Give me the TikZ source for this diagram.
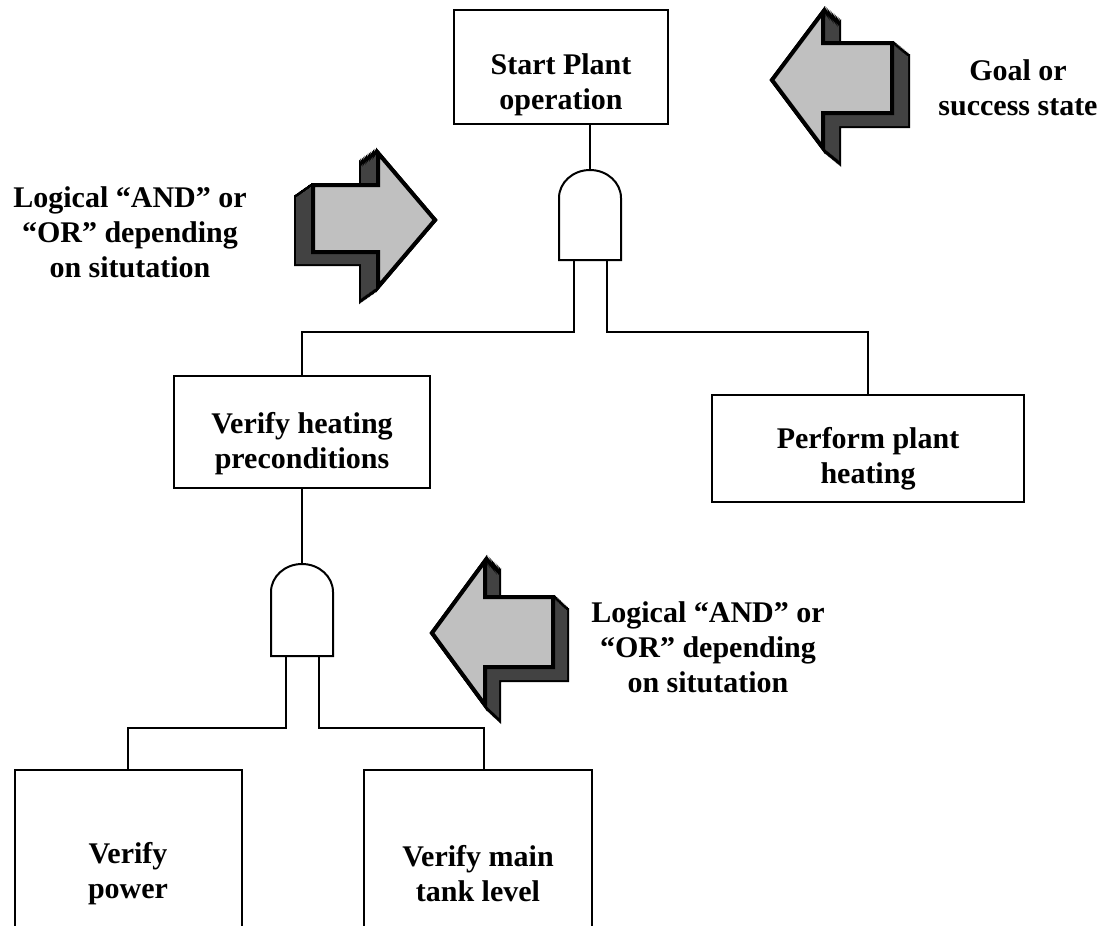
\documentclass[tikz,border=0pt]{standalone}
\usepackage{fontspec}
\setmainfont{Liberation Serif}
\begin{document}
\begin{tikzpicture}[x=1pt,y=-1pt,
  box/.style={draw, line width=2pt, rectangle, inner sep=0pt},
  txt/.style={font=\bfseries\fontsize{30}{35}\selectfont, align=center, inner sep=0pt},
  wire/.style={line width=2pt},
  gateline/.style={line width=2pt, fill=white},
  face/.style={fill=facegray, draw=black, line width=4pt, line join=miter},
  arrA/.style={insert path={(313,185) -- (378,185) -- (378,153) -- (435,220) -- (378,287) -- (378,252) -- (313,252) -- cycle}},
  arrB/.style={insert path={(892,43) -- (823,43) -- (823,12) -- (772,80) -- (823,148) -- (823,113) -- (892,113) -- cycle}},
  arrC/.style={insert path={(553,597) -- (485,597) -- (485,561) -- (432,633) -- (485,705) -- (485,667) -- (553,667) -- cycle}}
]
\definecolor{facegray}{HTML}{C0C0C0}
\definecolor{darkgray}{HTML}{424242}
\path[use as bounding box] (0,0) rectangle (1112,926);
\clip (0,0) rectangle (1112,926);

% ---------- boxes ----------
\node[box, minimum width=214pt, minimum height=114pt] (start) at (561,67) {};
\node[txt] (startT) at (561,85) {Start Plant\\operation};

\node[box, minimum width=256pt, minimum height=112pt] (heat) at (302,432) {};
\node[txt] (heatT) at (302,444) {Verify heating\\preconditions};

\node[box, minimum width=312pt, minimum height=107pt] (perf) at (868,448) {};
\node[txt] (perfT) at (868,459) {Perform plant\\heating};

\node[box, minimum width=227pt, minimum height=190pt] (power) at (128,865) {};
\node[txt] (powerT) at (128,874) {Verify\\power};

\node[box, minimum width=228pt, minimum height=190pt] (tank) at (478,865) {};
\node[txt] (tankT) at (478,874) {Verify main\\tank level};

% ---------- gates ----------
\coordinate (g1) at (590,170);
\coordinate (g1l) at (574,260);
\coordinate (g1r) at (607,260);
\draw[gateline] (559,260) -- (559,198) arc[start angle=180, end angle=0, x radius=31, y radius=-28] -- (621,260) -- cycle;
\coordinate (g2) at (302,564);
\coordinate (g2l) at (286,656);
\coordinate (g2r) at (319,656);
\draw[gateline] (271,656) -- (271,592) arc[start angle=180, end angle=0, x radius=31, y radius=-28] -- (333,656) -- cycle;
\coordinate (tankin) at (484,770);

% ---------- connectors ----------
\draw[wire] (start.south -| g1) -- (g1);
\draw[wire] (g1l) -- (g1l |- 0,332) -| (heat.north);
\draw[wire] (g1r) -- (g1r |- 0,332) -| (perf.north);
\draw[wire] (heat.south -| g2) -- (g2);
\draw[wire] (g2l) -- (g2l |- 0,728) -| (power.north);
\draw[wire] (g2r) -- (g2r |- 0,728) -| (tankin);

% ---------- 3D block arrows ----------
\foreach \t in {0,...,12} {\draw[line width=4pt, shift={({-17*\t/12},{12*\t/12})}, arrA];}
\foreach \t in {0,...,12} {\fill[darkgray, shift={({-17*\t/12},{12*\t/12})}, arrA];}
\draw[face, arrA];

\foreach \t in {0,...,12} {\draw[line width=4pt, shift={({16*\t/12},{13*\t/12})}, arrB];}
\foreach \t in {0,...,12} {\fill[darkgray, shift={({16*\t/12},{13*\t/12})}, arrB];}
\draw[face, arrB];

\foreach \t in {0,...,12} {\draw[line width=4pt, shift={({14*\t/12},{13*\t/12})}, arrC];}
\foreach \t in {0,...,12} {\fill[darkgray, shift={({14*\t/12},{13*\t/12})}, arrC];}
\draw[face, arrC];

% ---------- labels ----------
\node[txt] (goal) at (1018,88) {Goal or\\success state};
\node[txt] (logic1) at (130,232) {Logical “AND” or\\“OR” depending\\on situtation};
\node[txt] (logic2) at (708,647) {Logical “AND” or\\“OR” depending\\on situtation};
\end{tikzpicture}
\end{document}
